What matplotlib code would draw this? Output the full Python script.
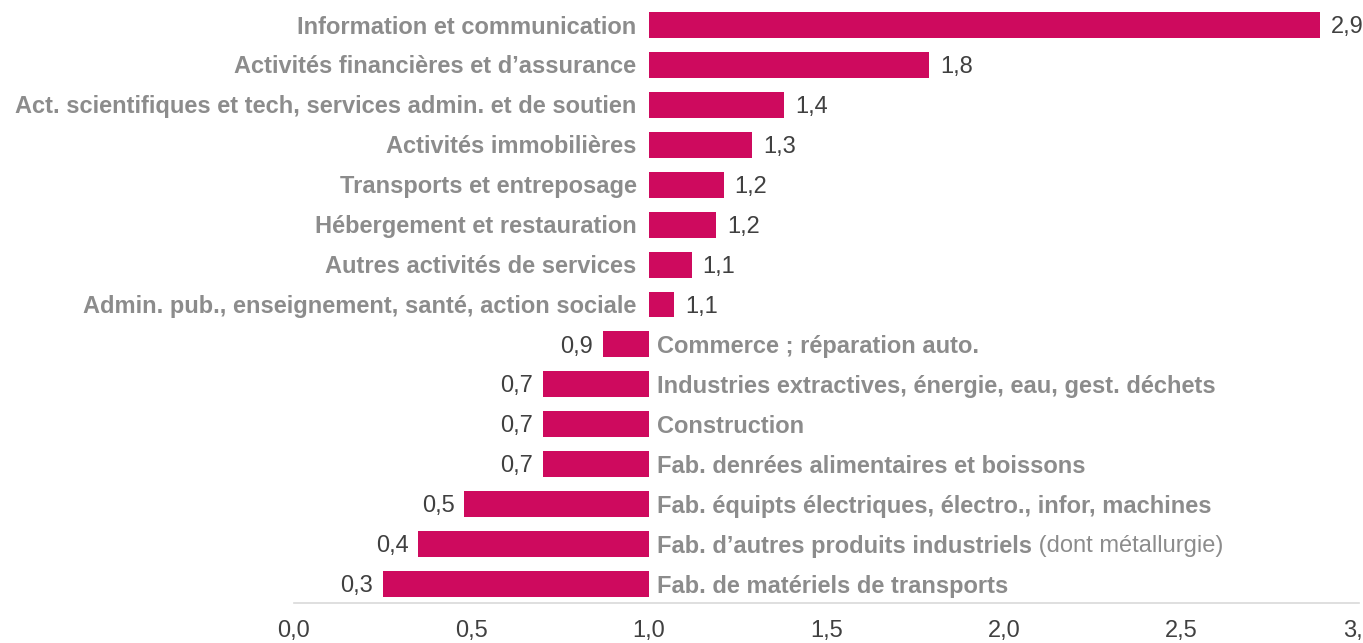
import matplotlib.pyplot as plt

plt.rcParams['font.family'] = ['Liberation Sans', 'DejaVu Sans']

# Secteurs (de haut en bas), valeurs du ratio et libellés affichés
secteurs = [
    "Information et communication",
    "Activités financières et d’assurance",
    "Act. scientifiques et tech, services admin. et de soutien",
    "Activités immobilières",
    "Transports et entreposage",
    "Hébergement et restauration",
    "Autres activités de services",
    "Admin. pub., enseignement, santé, action sociale",
    "Commerce ; réparation auto.",
    "Industries extractives, énergie, eau, gest. déchets",
    "Construction",
    "Fab. denrées alimentaires et boissons",
    "Fab. équipts électriques, électro., infor, machines",
    "Fab. d’autres produits industriels",
    "Fab. de matériels de transports",
]
valeurs = [2.89, 1.79, 1.38, 1.29, 1.21, 1.19, 1.12, 1.07,
           0.87, 0.70, 0.70, 0.70, 0.48, 0.35, 0.25]
etiquettes = ["2,9", "1,8", "1,4", "1,3", "1,2", "1,2", "1,1", "1,1",
              "0,9", "0,7", "0,7", "0,7", "0,5", "0,4", "0,3"]
xticks = [0.0, 0.5, 1.0, 1.5, 2.0, 2.5, 3.0]
xtick_labels = ["0,0", "0,5", "1,0", "1,5", "2,0", "2,5", "3,0"]

base = 1.0
bar_color = '#CE0A5E'
cat_color = '#8C8C8C'
val_color = '#404040'
fs = 17

fig = plt.figure(figsize=(13.63, 6.43), dpi=100)
ax = fig.add_axes([294 / 1363, 40 / 643, (1359 - 294) / 1363, 598 / 643])

y = list(range(len(secteurs)))
ax.barh(y, [v - base for v in valeurs], left=base, height=0.65, color=bar_color)

for i, (nom, v, lab) in enumerate(zip(secteurs, valeurs, etiquettes)):
    if v >= base:
        ax.annotate(nom, xy=(base, i), xytext=(-9, -1.5), textcoords='offset points',
                    ha='right', va='center', fontsize=fs, fontweight='bold', color=cat_color)
        ax.annotate(lab, xy=(v, i), xytext=(8, -1.5), textcoords='offset points',
                    ha='left', va='center', fontsize=fs, color=val_color)
    else:
        t = ax.annotate(nom, xy=(base, i), xytext=(6, -1.5), textcoords='offset points',
                        ha='left', va='center', fontsize=fs, fontweight='bold', color=cat_color)
        ax.annotate(lab, xy=(v, i), xytext=(-7, -1.5), textcoords='offset points',
                    ha='right', va='center', fontsize=fs, color=val_color)
        if nom == "Fab. d’autres produits industriels":
            ax.annotate(" (dont métallurgie)", xy=(1, 0.5), xycoords=t,
                        ha='left', va='center', fontsize=fs, color=cat_color)

ax.set_xlim(0, 3)
ax.set_ylim(len(secteurs) - 1 + 0.475, -0.5)
ax.set_xticks(xticks)
ax.set_xticklabels(xtick_labels, fontsize=fs, color=val_color)
ax.tick_params(axis='x', length=0, pad=12.5)
ax.set_yticks([])
for side in ['top', 'right', 'left']:
    ax.spines[side].set_visible(False)
ax.spines['bottom'].set_color('#D9D9D9')
ax.spines['bottom'].set_linewidth(1.2)

fig.savefig('out.png', dpi=100)
